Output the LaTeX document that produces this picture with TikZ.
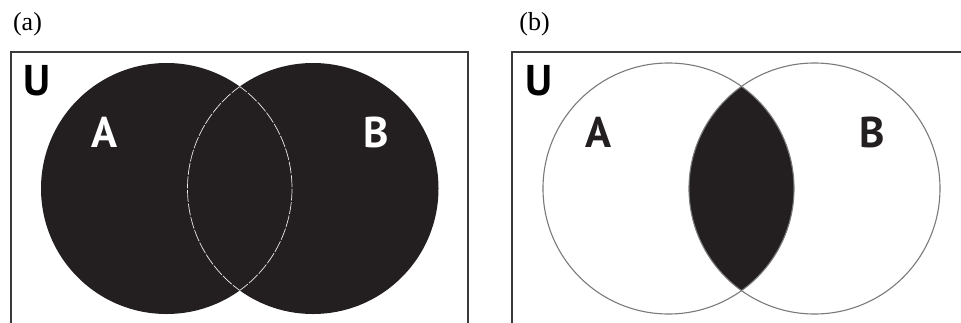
\documentclass[tikz,border=0pt]{standalone}
\usepackage{fontspec}
\setmainfont{Liberation Serif}
\newfontfamily\labelsans{PT Sans}[BoldFont={PT Sans Bold}]
\definecolor{ink}{HTML}{231F20}
\definecolor{frame}{HTML}{3A3A3A}
\definecolor{rim}{HTML}{7A7A7A}
\begin{document}
\begin{tikzpicture}[x=1pt,y=-1pt,
  panel/.style={font=\fontsize{26}{26}\selectfont, inner sep=0pt, anchor=base},
  setname/.style={font=\labelsans\bfseries\fontsize{43}{43}\selectfont, inner sep=0pt, anchor=base},
  universe/.style={draw=frame, line width=2pt},
  outline/.style={draw=rim, line width=1.1pt},
  seam/.style={draw=white!92!black, line width=0.7pt, dash pattern=on 12pt off 1.6pt}]
\useasboundingbox (0,0) rectangle (961,322);

% ---------- (a) union ----------
\coordinate (ca) at (166.5,188.5);
\coordinate (cb) at (313,188.5);
\draw[universe] (11,335) -- (11,52) -- (468,52) -- (468,335);
\fill[ink] (ca) circle (125.5);
\fill[ink] (cb) circle (125.5);
\begin{scope}
  \clip (ca) circle (125.5);
  \draw[seam] (cb) circle (125.5);
\end{scope}
\begin{scope}
  \clip (cb) circle (125.5);
  \draw[seam] (ca) circle (125.5);
\end{scope}
\node[panel] (la) at (27.5,30.5) {(a)};
\node[setname] (ua) at (36.5,95) {U};
\node[setname, text=white] (aa) at (104.5,147) {A};
\node[setname, text=white] (ba) at (376,147) {B};

% ---------- (b) intersection ----------
\coordinate (cc) at (668.5,188.5);
\coordinate (cd) at (814.5,188.5);
\draw[universe] (512,335) -- (512,52) -- (975,52);
\begin{scope}
  \clip (cc) circle (125.5);
  \fill[ink] (cd) circle (125.5);
\end{scope}
\draw[outline] (cc) circle (125.5);
\draw[outline] (cd) circle (125.5);
\node[panel] (lb) at (534.5,30.5) {(b)};
\node[setname] (ub) at (538.5,95) {U};
\node[setname, text=ink] (ab) at (598.5,147) {A};
\node[setname, text=ink] (bb) at (872.5,147) {B};
\end{tikzpicture}
\end{document}
